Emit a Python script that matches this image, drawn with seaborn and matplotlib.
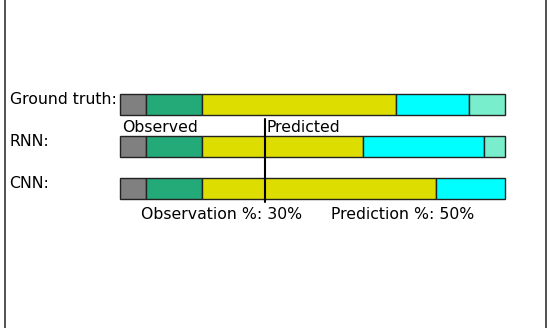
import seaborn as sns
import matplotlib.pyplot as plt

sns.set_style("white")
plt.rcParams['font.family'] = ['DejaVu Sans']
plt.rcParams['text.color'] = 'black'

rows = ["Ground truth:", "RNN:", "CNN:"]
# segment lengths (% of the full sequence) and their action classes
gt_lengths = [6.8, 14.5, 50.4, 18.9, 9.4]
gt_classes = ["bg", "a1", "a2", "a3", "a4"]
rnn_lengths = [6.8, 14.5, 41.8, 31.4, 5.5]
rnn_classes = ["bg", "a1", "a2", "a3", "a4"]
cnn_lengths = [6.8, 14.5, 60.8, 17.9]
cnn_classes = ["bg", "a1", "a2", "a3"]
split_at = 37.7
obs_pct = 30
pred_pct = 50

palette = {"bg": "#808080", "a1": "#23AA78", "a2": "#DDDD00",
           "a3": "#00FFFF", "a4": "#78EECC"}

fig = plt.figure(figsize=(5.48, 3.28), dpi=100)
ax = fig.add_axes([5 / 548, 0, 541 / 548, 1])

segs = [(gt_lengths, gt_classes), (rnn_lengths, rnn_classes), (cnn_lengths, cnn_classes)]
for i, (lengths, classes) in enumerate(segs):
    left = 0
    for ln, c in zip(lengths, classes):
        ax.barh(i, ln, left=left, height=0.5, color=palette[c],
                edgecolor="#222222", linewidth=1)
        left += ln

ax.set_xlim(-29.9, 110.6)
ax.set_ylim(5.32, -2.49)

fs = 11.3
for i, r in enumerate(rows):
    ax.text(-28.7, i - 0.12, r, fontsize=fs, ha="left", va="center")

ax.plot([split_at, split_at], [0.35, 2.33], color="black", linewidth=1.5)
ax.text(0.5, 0.55, "Observed", fontsize=fs, ha="left", va="center")
ax.text(split_at + 0.3, 0.55, "Predicted", fontsize=fs, ha="left", va="center")
ax.text(5.5, 2.62, f"Observation %: {obs_pct}%", fontsize=fs, ha="left", va="center")
ax.text(54.8, 2.62, f"Prediction %: {pred_pct}%", fontsize=fs, ha="left", va="center")

ax.set_xticks([])
ax.set_yticks([])
ax.spines["top"].set_visible(False)
ax.spines["bottom"].set_visible(False)
for s in ["left", "right"]:
    ax.spines[s].set_color("#333333")
    ax.spines[s].set_linewidth(1.2)

fig.savefig("out.png", dpi=100)
